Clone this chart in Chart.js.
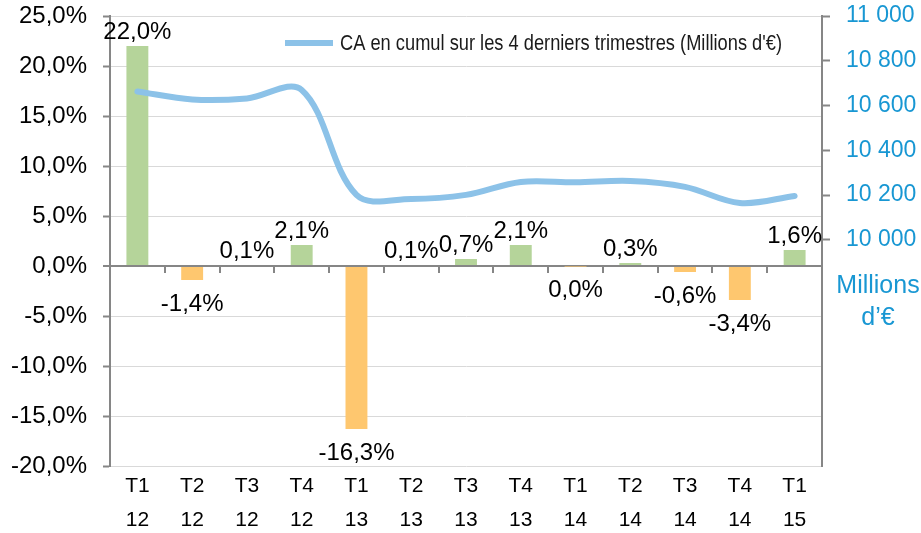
<!DOCTYPE html>
<html><head><meta charset="utf-8">
<script src="https://cdn.jsdelivr.net/npm/chart.js@4.4.0/dist/chart.umd.min.js"></script>
<style>html,body{margin:0;padding:0;background:#fff;}#wrap{width:921px;height:533px;position:relative;}</style>
</head><body><div id="wrap"><canvas id="c" width="921" height="533"></canvas></div>
<script>
const quarters = ['T1','T2','T3','T4','T1','T2','T3','T4','T1','T2','T3','T4','T1'];
const years = ['12','12','12','12','13','13','13','13','14','14','14','14','15'];
const growthPct = [22.0,-1.4,0.1,2.1,-16.3,0.1,0.7,2.1,-0.04,0.3,-0.6,-3.4,1.6];
const revenueCumul = [10663,10627,10632,10670,10201,10183,10201,10259,10257,10263,10237,10165,10196];
const leftTicks = [-20,-15,-10,-5,0,5,10,15,20,25];
const rightTicks = [10000,10200,10400,10600,10800,11000];
const legendLabel = "CA en cumul sur les 4 derniers trimestres (Millions d'€)";
const rightAxisTitle = ['Millions','d\u2019€'];

const GREEN = '#b5d49a', ORANGE = '#fec76f', LINE = '#8cc2e8', BLUE = '#1897d3', AXIS = '#868686', GRID = '#d9d9d9';
const FAM = '"Liberation Sans", Arial, sans-serif';
const fmtPct = v => { let s = (Math.round(v*10)/10).toFixed(1); if (s === '-0.0') s = '0.0'; return s.replace('.', ',') + '%'; };
const fmtThousands = v => String(v).replace(/\B(?=(\d{3})+(?!\d))/g, ' ');

const labelsPlugin = {
  id: 'extras',
  afterDatasetsDraw(chart) {
    const ctx = chart.ctx;
    const meta = chart.getDatasetMeta(1);
    ctx.save();
    ctx.font = '24px ' + FAM;
    ctx.fillStyle = '#000';
    ctx.textAlign = 'center';
    ctx.textBaseline = 'alphabetic';
    meta.data.forEach((bar, i) => {
      const v = growthPct[i];
      if (v >= 0) ctx.fillText(fmtPct(v), bar.x, bar.y - 7);
      else ctx.fillText(fmtPct(v), bar.x, bar.y + 31);
    });
    ctx.restore();
  },
  afterDraw(chart) {
    const ctx = chart.ctx;
    const a = chart.chartArea;
    const y0 = chart.scales.y.getPixelForValue(0);
    const n = quarters.length;
    const w = (a.right - a.left) / n;
    ctx.save();
    ctx.strokeStyle = AXIS; ctx.lineWidth = 2;
    for (let i = 1; i < n; i++) {
      const x = Math.round(a.left + w * i);
      ctx.beginPath(); ctx.moveTo(x, y0); ctx.lineTo(x, y0 + 7); ctx.stroke();
    }
    // legend
    ctx.strokeStyle = LINE; ctx.lineWidth = 6;
    ctx.beginPath(); ctx.moveTo(285, 43); ctx.lineTo(333, 43); ctx.stroke();
    ctx.fillStyle = '#1a1a1a';
    ctx.font = '22px ' + FAM;
    ctx.textAlign = 'left'; ctx.textBaseline = 'middle';
    const tw = ctx.measureText(legendLabel).width;
    const sx = 442 / tw;
    ctx.save();
    ctx.translate(340, 44);
    ctx.scale(sx, 1);
    ctx.fillText(legendLabel, 0, 0);
    ctx.restore();
    // right axis title
    ctx.fillStyle = BLUE;
    ctx.font = '25px ' + FAM;
    ctx.textAlign = 'center';
    ctx.fillText(rightAxisTitle[0], 878, 286);
    ctx.fillText(rightAxisTitle[1], 878, 318);
    ctx.restore();
  }
};

function fixVertical(width) {
  return function (s) { s.width = width; s.paddingTop = 0; s.paddingBottom = 0; };
}

new Chart(document.getElementById('c'), {
  data: {
    labels: quarters.map((q, i) => [q, years[i]]),
    datasets: [
      { type: 'line', data: revenueCumul, yAxisID: 'y1', borderColor: LINE, borderWidth: 6,
        pointRadius: 0, tension: 0.35, borderCapStyle: 'round', borderJoinStyle: 'round', order: 0 },
      { type: 'bar', data: growthPct, yAxisID: 'y',
        backgroundColor: growthPct.map(v => v >= 0 ? GREEN : ORANGE),
        categoryPercentage: 1, barPercentage: 0.4, order: 1 }
    ]
  },
  options: {
    responsive: false, animation: false, devicePixelRatio: 1,
    layout: { padding: { top: 16, left: 0, right: 0, bottom: 0 } },
    plugins: { legend: { display: false }, tooltip: { enabled: false } },
    scales: {
      x: {
        grid: { display: false, drawTicks: false }, border: { display: false },
        ticks: { color: '#000', padding: 3, maxRotation: 0, autoSkip: false,
          font: { size: 21, family: FAM, lineHeight: 34 / 21 } },
        afterFit(s) { s.height = 67; s.paddingLeft = 0; s.paddingRight = 0; }
      },
      y: {
        position: 'left', min: -20, max: 25,
        afterBuildTicks(s) { s.ticks = leftTicks.map(v => ({ value: v })); },
        grid: { color: c => c.tick && c.tick.value === 0 ? AXIS : GRID,
                lineWidth: c => c.tick && c.tick.value === 0 ? 2 : 1,
                tickColor: AXIS, tickLength: 7, tickWidth: 2 },
        border: { display: true, color: AXIS, width: 2 },
        ticks: { color: '#000', padding: 16, callback: v => fmtPct(v),
          font: { size: 24, family: FAM } },
        afterFit: fixVertical(110)
      },
      y1: {
        position: 'right', min: 8990, max: 11000,
        afterBuildTicks(s) { s.ticks = rightTicks.map(v => ({ value: v })); },
        grid: { drawOnChartArea: false, tickColor: AXIS, tickLength: 8, tickWidth: 2 },
        border: { display: true, color: AXIS, width: 2 },
        ticks: { color: BLUE, padding: 16, callback: v => fmtThousands(v),
          font: { size: 23, family: FAM } },
        afterFit: fixVertical(99)
      }
    }
  },
  plugins: [labelsPlugin]
});
</script></body></html>
